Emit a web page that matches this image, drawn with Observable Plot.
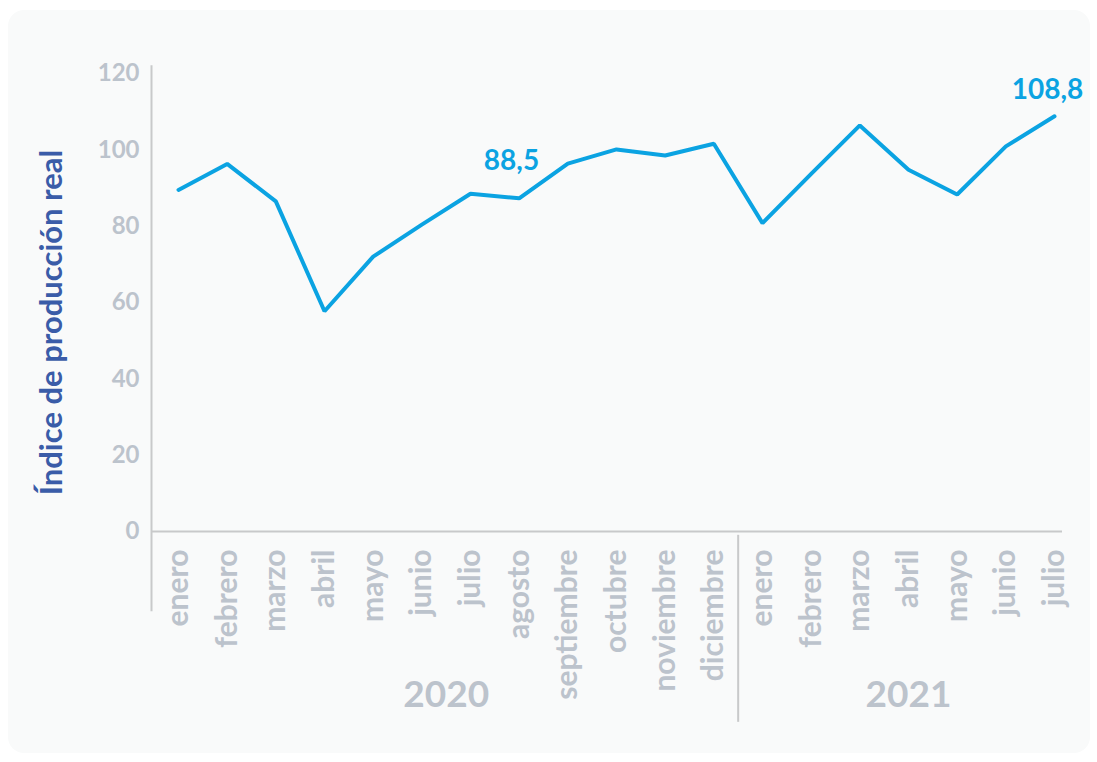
<!DOCTYPE html>
<html><head><meta charset="utf-8">
<script src="https://cdn.jsdelivr.net/npm/d3@7"></script>
<script src="https://cdn.jsdelivr.net/npm/@observablehq/plot@0.6"></script>
<style>
html,body{margin:0;padding:0;background:#fff;}
#wrap{position:relative;width:1097px;height:762px;overflow:hidden;}
#panel{position:absolute;left:8px;top:10px;width:1082px;height:743px;background:#f9fafa;border-radius:16px;}
#chart{position:absolute;left:0;top:0;}
</style></head><body>
<div id="wrap"><div id="panel"></div><div id="chart"></div></div>
<script>
const months2020 = ["enero","febrero","marzo","abril","mayo","junio","julio","agosto","septiembre","octubre","noviembre","diciembre"];
const values2020 = [89.5,96.3,86.5,57.7,72.0,80.4,88.5,87.3,96.4,100.1,98.5,101.6];
const months2021 = ["enero","febrero","marzo","abril","mayo","junio","julio"];
const values2021 = [80.8,93.7,106.4,94.8,88.3,100.9,108.8];
const yTicks = [0,20,40,60,80,100,120];
const yTitle = "Índice de producción real";
const highlightKeys = ["2020-7","2021-7"];
const highlightLabels = ["88,5","108,8"];

const data = [
  ...months2020.map((m,i)=>({key:`2020-${i+1}`, month:m, year:"2020", value:values2020[i]})),
  ...months2021.map((m,i)=>({key:`2021-${i+1}`, month:m, year:"2021", value:values2021[i]}))
];
const keys = data.map(d=>d.key);
const monthOf = new Map(data.map(d=>[d.key,d.month]));
const xRange = [178, 1054];
const step = (xRange[1]-xRange[0])/(keys.length-1);
const labels = highlightKeys.map((k,i)=>({key:k, value:data.find(d=>d.key===k).value, label:highlightLabels[i]}));

const tickColor = "#bcc3cc";
const axisColor = "#c8c9ca";
const lineColor = "#0ba3e2";
const titleColor = "#3a5ca8";
const font = "Lato, sans-serif";

const chart = Plot.plot({
  width: 1097, height: 762,
  marginLeft: 151, marginRight: 35, marginTop: 73, marginBottom: 231,
  style: {background:"transparent", fontFamily: font, overflow:"visible"},
  x: {type:"point", domain: keys, range: xRange, padding: 0, round: false, axis: null},
  y: {domain:[0,120], range:[531,73], axis: null},
  marks: [
    Plot.ruleY([0], {stroke: axisColor, strokeWidth: 2}),
    Plot.ruleX([keys[0]], {x: d=>d, y1: -21, y2: 122, dx: -(xRange[0]-151), stroke: axisColor, strokeWidth: 2}),
    Plot.ruleX(["2020-12"], {x: d=>d, y1: -1, y2: -50, dx: step/2, stroke: axisColor, strokeWidth: 2}),
    Plot.axisX({tickRotate: -90, tickSize: 0, tickPadding: 18, tickFormat: k=>monthOf.get(k), fill: tickColor, fontSize: 30, fontWeight: 700, label: null}),
    Plot.axisY({ticks: yTicks, tickSize: 0, tickPadding: 12, fill: tickColor, fontSize: 24, fontWeight: 700, label: null}),
    Plot.text([yTitle], {frameAnchor: "left", rotate: -90, dx: -99, dy: 20, fill: titleColor, fontSize: 31, fontWeight: 700, textAnchor: "middle"}),
    Plot.line(data, {x: "key", y: "value", stroke: lineColor, strokeWidth: 4, strokeLinejoin: "miter", strokeLinecap: "round"}),
    Plot.text(labels.slice(0,1), {x: "key", y: "value", text: "label", dx: 41, dy: -33, fill: lineColor, fontSize: 28, fontWeight: 700}),
    Plot.text(labels.slice(1), {x: "key", y: "value", text: "label", dx: -7, dy: -26, fill: lineColor, fontSize: 28, fontWeight: 700}),
    Plot.text(["2020"], {x: ["2020-6"], frameAnchor: "bottom", dx: step/2, dy: 175, fill: tickColor, fontSize: 37, fontWeight: 700}),
    Plot.text(["2021"], {x: ["2021-4"], frameAnchor: "bottom", dy: 175, fill: tickColor, fontSize: 37, fontWeight: 700})
  ]
});
document.getElementById("chart").appendChild(chart);
</script>
</body></html>
